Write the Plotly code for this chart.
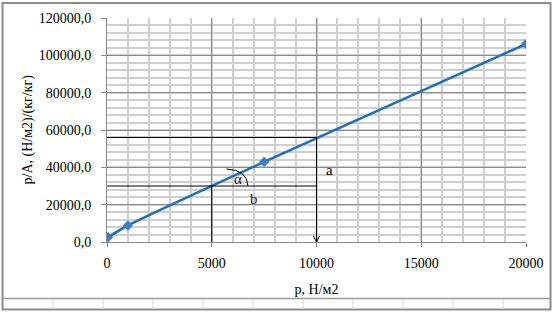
import plotly.graph_objects as go

# ---- data ----
p_values = [50, 1000, 7500, 20000]
pA_values = [2600, 8850, 42900, 106100]

x_ticks = [0, 5000, 10000, 15000, 20000]
x_tick_labels = ["0", "5000", "10000", "15000", "20000"]
y_ticks = [0, 20000, 40000, 60000, 80000, 100000, 120000]
y_tick_labels = ["0,0", "20000,0", "40000,0", "60000,0", "80000,0", "100000,0", "120000,0"]
x_title = "p, Н/м2"
y_title = "p/A, (Н/м2)/(кг/кг)"

# construction lines (a / b triangle)
point_a = [10000, 56000]
point_b = [5000, 30000]
arc_pts = [[5700, 39100], [6690, 38750], [6730, 30000]]
label_alpha = [6270, 33600, "α"]
label_b = [7000, 22800, "b"]
label_a = [10600, 38500, "a"]

FONT = "Liberation Serif, Times New Roman, serif"

fig = go.Figure()
fig.add_trace(go.Scatter(
    x=p_values, y=pA_values, mode="lines+markers",
    line=dict(color="#1f6fc0", width=2.6, shape="spline", smoothing=0.6),
    marker=dict(symbol="diamond", size=8, color="#3f7cc8"),
    showlegend=False, hoverinfo="skip"))

line_style = dict(color="black", width=1)
fig.add_shape(type="line", x0=0, x1=point_a[0], y0=point_a[1], y1=point_a[1], line=line_style)
fig.add_shape(type="line", x0=point_a[0], x1=point_a[0], y0=point_a[1], y1=0, line=line_style)
fig.add_shape(type="path", path=f"M {point_a[0]-150},{3300} L {point_a[0]},{0} L {point_a[0]+150},{3300}",
              line=line_style)
fig.add_shape(type="line", x0=0, x1=point_a[0], y0=point_b[1], y1=point_b[1], line=line_style)
fig.add_shape(type="line", x0=point_b[0], x1=point_b[0], y0=point_b[1], y1=0, line=line_style)
fig.add_shape(type="path",
              path=f"M {arc_pts[0][0]},{arc_pts[0][1]} Q {arc_pts[1][0]},{arc_pts[1][1]} {arc_pts[2][0]},{arc_pts[2][1]}",
              line=line_style)

for lx, ly, txt, col in [(*label_alpha, "#101030"), (*label_b, "#4a1414"), (*label_a, "black")]:
    fig.add_annotation(x=lx, y=ly, text=txt, showarrow=False,
                       font=dict(family=FONT, size=15, color=col))

# ---- chart-area frame (spreadsheet look) ----
L, R, T, B = 107, 526, 18, 242
W, H = R - L, B - T
def px(x):
    return (x - L) / W
def py(y):
    return (B - y) / H

# y-axis title placed as rotated text
fig.add_annotation(xref="paper", yref="paper", x=px(27.5), y=0.5, text=y_title,
                   textangle=-90, showarrow=False, xanchor="center", yanchor="middle",
                   font=dict(family=FONT, size=14, color="black"))

frame = dict(color="#8c8c8c", width=2)
fig.add_shape(type="rect", xref="paper", yref="paper",
              x0=px(2.5), x1=px(550.5), y0=py(3), y1=py(309.5), line=frame, layer="below")
fig.add_shape(type="line", xref="paper", yref="paper",
              x0=px(2.5), x1=px(550.5), y0=py(298.5), y1=py(298.5),
              line=dict(color="#9a9a9a", width=1.5))
for cx in range(53, 550, 50):
    fig.add_shape(type="line", xref="paper", yref="paper",
                  x0=px(cx), x1=px(cx), y0=py(299.5), y1=py(308.5),
                  line=dict(color="#dfe3ee", width=1.5))

fig.update_layout(
    width=553, height=312,
    margin=dict(l=L, r=553 - R, t=T, b=312 - B),
    paper_bgcolor="white", plot_bgcolor="white",
    font=dict(family=FONT, size=14, color="black"),
)
fig.update_xaxes(
    range=[0, 20000], tickvals=x_ticks, ticktext=x_tick_labels,
    showgrid=True, gridcolor="#8a8a8a", gridwidth=1,
    minor=dict(dtick=1000, showgrid=True, gridcolor="#cfcfcf", gridwidth=1.5),
    showline=True, linecolor="#8a8a8a", linewidth=1,
    ticks="outside", ticklen=4, tickcolor="#8a8a8a",
    zeroline=False, tickfont=dict(family=FONT, size=14), ticklabelstandoff=4,
    title=dict(text=x_title, font=dict(family=FONT, size=14), standoff=14),
    automargin=False,
)
fig.update_yaxes(
    range=[0, 120000], tickvals=y_ticks, ticktext=y_tick_labels,
    showgrid=True, gridcolor="#8a8a8a", gridwidth=1,
    minor=dict(dtick=4000, showgrid=True, gridcolor="#cfcfcf", gridwidth=1.5),
    showline=True, linecolor="#8a8a8a", linewidth=1,
    ticks="outside", ticklen=5, tickcolor="#8a8a8a",
    zeroline=False, tickfont=dict(family=FONT, size=14), ticklabelstandoff=7,
    automargin=False,
)

fig.write_html("out.html")
